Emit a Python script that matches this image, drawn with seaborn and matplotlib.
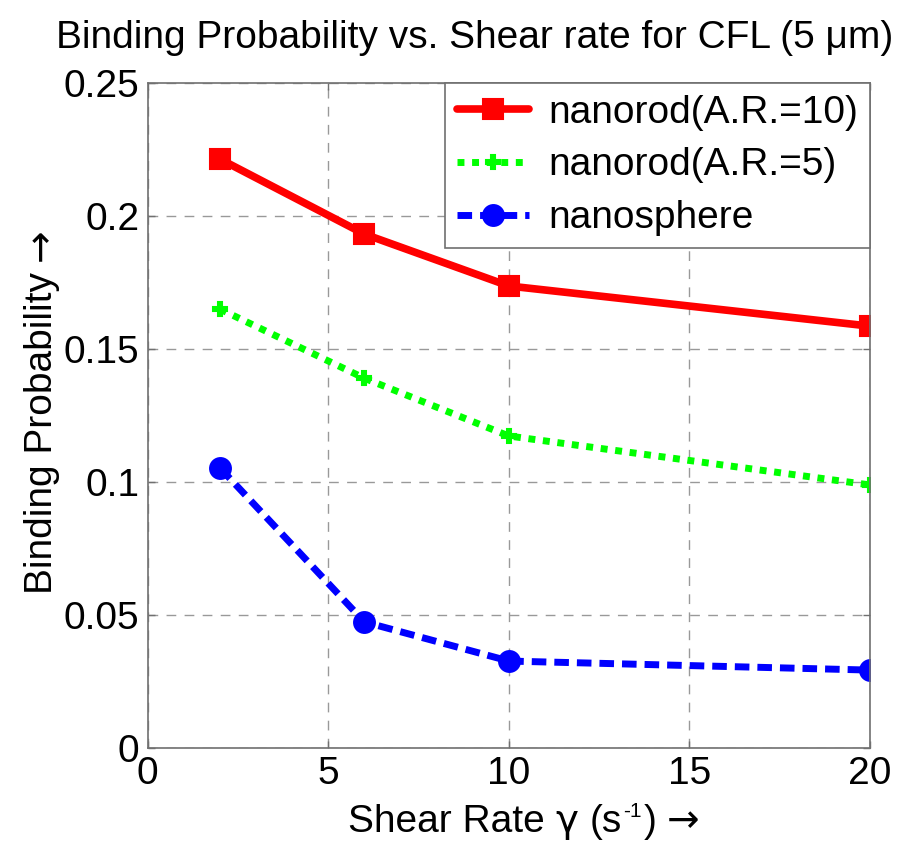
import numpy as np
import pandas as pd
import matplotlib
matplotlib.use("Agg")
import matplotlib.pyplot as plt
import seaborn as sns

shear_rate = [2, 6, 10, 20]
nanorod_ar10 = [0.2214, 0.1932, 0.1737, 0.1586]
nanorod_ar5 = [0.1650, 0.1390, 0.1173, 0.0989]
nanosphere = [0.1053, 0.0474, 0.0327, 0.0293]
labels = ["nanorod(A.R.=10)", "nanorod(A.R.=5)", "nanosphere"]
x_ticks = [0, 5, 10, 15, 20]
y_ticks = [0, 0.05, 0.1, 0.15, 0.2, 0.25]
y_tick_labels = ["0", "0.05", "0.1", "0.15", "0.2", "0.25"]

sns.set_theme(style="white")
plt.rcParams['font.family'] = ['Liberation Sans', 'DejaVu Sans']
plt.rcParams['text.color'] = 'black'
plt.rcParams['axes.labelcolor'] = 'black'

FS = 28
W, H = 901, 842

fig = plt.figure(figsize=(9.01, 8.42), dpi=100)
ax = fig.add_axes([0.164, 0.1116, 0.8016, 0.7898])

df = pd.DataFrame({
    "x": shear_rate * 3,
    "y": nanorod_ar10 + nanorod_ar5 + nanosphere,
    "series": [labels[0]] * 4 + [labels[1]] * 4 + [labels[2]] * 4,
})

styles = [
    dict(color="#ff0000", marker="s", ls="-", ms=14, lw=5.5),
    dict(color="#00ff00", marker="P", ls=(0, (1.0, 1.1)), ms=10, lw=5),
    dict(color="#0000ff", marker="o", ls=(0, (2.1, 1.15)), ms=15, lw=5),
]
for lab, st in zip(labels, styles):
    sub = df[df.series == lab]
    sns.lineplot(data=sub, x="x", y="y", ax=ax, color=st["color"], marker=st["marker"],
                 linestyle=st["ls"], markersize=st["ms"], linewidth=st["lw"],
                 markeredgecolor=st["color"], markerfacecolor=st["color"],
                 markeredgewidth=1.5, label=lab)

ax.set_xlim(0, 20)
ax.set_ylim(0, 0.25)
ax.set_xticks(x_ticks)
ax.set_xticklabels([str(v) for v in x_ticks])
ax.set_yticks(y_ticks)
ax.set_yticklabels(y_tick_labels)
ax.tick_params(axis="both", labelsize=FS, direction="in", length=5, width=1, color="#707070",
               labelcolor="black", top=True, right=True, bottom=True, left=True, pad=6)
ax.grid(True, color="#999999", linestyle=(0, (7, 6)), linewidth=1.0)
for s in ax.spines.values():
    s.set_color("#707070")
    s.set_linewidth(1.2)
ax.set_xlabel("")
ax.set_ylabel("")

fig.text(475 / W, 1 - 38 / H, "Binding Probability vs. Shear rate for CFL (5 μm)",
         fontsize=FS, ha="center", va="center")

renderer = fig.canvas.get_renderer()
SPACE = 0.278 * FS * 100 / 72


def measure(s, size, family):
    t = fig.text(0, 0, s, fontsize=size, family=family)
    w = t.get_window_extent(renderer).width
    t.remove()
    return w


def composite(pieces, center_px, baseline_px):
    # pieces: (text, size, family, raise_px, gap_after_px)
    widths = [measure(p[0], p[1], p[2]) for p in pieces]
    total = sum(widths) + sum(p[4] for p in pieces[:-1])
    pos = center_px - total / 2
    for p, w in zip(pieces, widths):
        s, size, fam, dy, gap = p
        fig.text(pos / W, (H - baseline_px + dy) / H, s, fontsize=size, family=fam,
                 ha="left", va="baseline")
        pos += w + gap


LS = ["Liberation Sans"]
DV = ["DejaVu Sans"]
composite([
    ("Shear Rate", FS, LS, 0, SPACE),
    ("γ", FS, DV, 0, SPACE),
    ("(s", FS, LS, 0, 1),
    ("-1", 15, LS, 15, 2),
    (")", FS, LS, 0, SPACE),
    ("→", FS, DV, 0, 0),
], 524, 832)

pieces_y = [("Binding Probability", FS, LS, 0, SPACE), ("→", FS, DV, 0, 0)]
widths = [measure(p[0], p[1], p[2]) for p in pieces_y]
total = sum(widths) + SPACE
start = 411 + total / 2  # bottom edge in px from top
for p, w in zip(pieces_y, widths):
    fig.text(52 / W, (H - start) / H, p[0], fontsize=p[1], family=p[2],
             ha="left", va="baseline", rotation=90, rotation_mode="anchor")
    start -= w + p[4]

leg = ax.legend(loc="upper right", fontsize=FS, frameon=True, fancybox=False,
                edgecolor="#707070", framealpha=1, borderaxespad=0.0,
                handlelength=1.85, handletextpad=0.5, labelspacing=0.43, borderpad=0.3)
leg.get_frame().set_linewidth(1.2)

fig.savefig("out.png", dpi=100)
